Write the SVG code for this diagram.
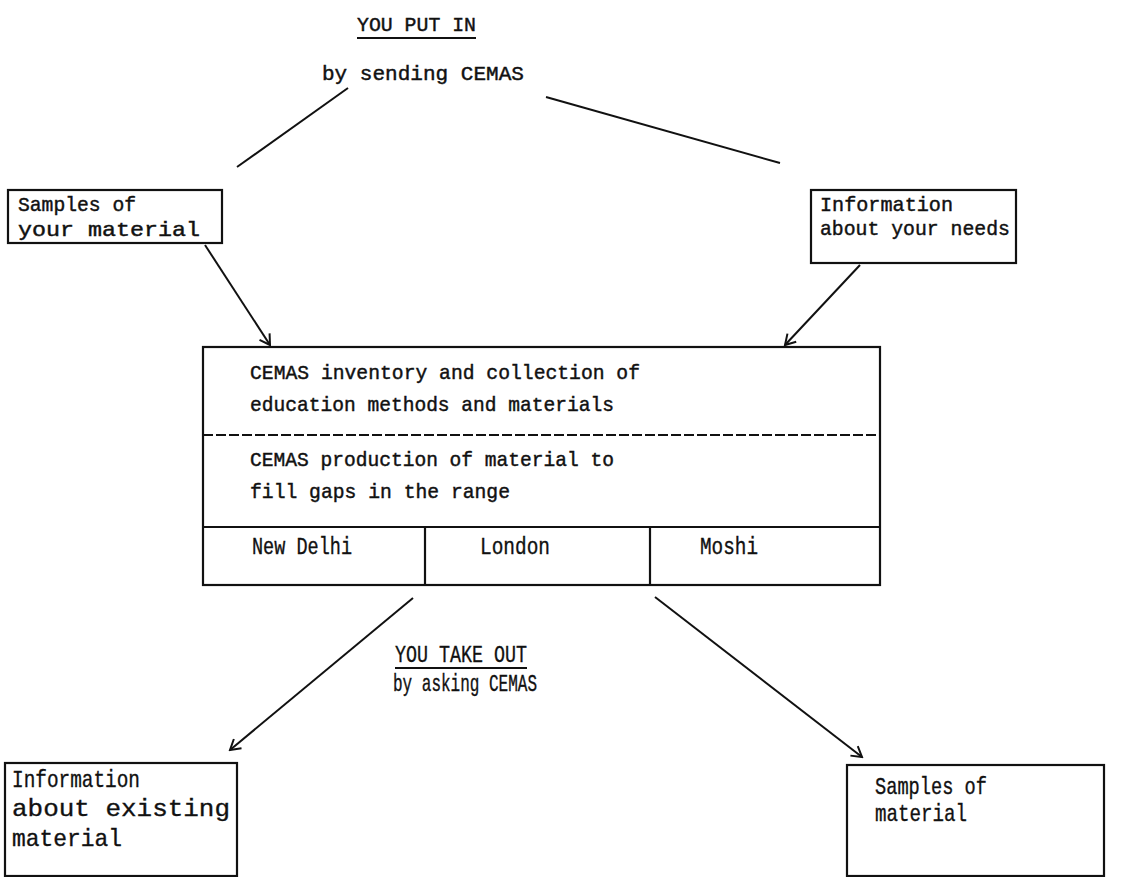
<svg xmlns="http://www.w3.org/2000/svg" width="1127" height="877" viewBox="0 0 1127 877">
<style>
.bg{fill:#fff}
.box{fill:none;stroke:#111;stroke-width:2.2}
.ln{fill:none;stroke:#111;stroke-width:2}
.t{font-family:"Liberation Mono","DejaVu Sans Mono",monospace;font-size:21px;fill:#111;stroke:#111;stroke-width:0.45}
.c{font-family:"Liberation Mono","DejaVu Sans Mono",monospace;font-size:24px;fill:#111;stroke:#111;stroke-width:0.35}
</style>
<defs>
<marker id="ah" markerWidth="14" markerHeight="14" refX="12" refY="7" orient="auto" markerUnits="userSpaceOnUse">
<path d="M2,1 L12,7 L2,13" fill="none" stroke="#111" stroke-width="2"/>
</marker>
</defs>
<rect class="bg" x="0" y="0" width="1127" height="877"/>
<g id="title-in">
<text class="t" x="357" y="31" textLength="119" lengthAdjust="spacingAndGlyphs">YOU PUT IN</text>
<line class="ln" x1="357" y1="38" x2="476" y2="38"/>
<text class="t" x="322" y="80" textLength="202" lengthAdjust="spacingAndGlyphs">by sending  CEMAS</text>
</g>
<g id="title-out">
<text class="c" x="395" y="662" textLength="132" lengthAdjust="spacingAndGlyphs">YOU TAKE OUT</text>
<line class="ln" x1="395" y1="668" x2="527" y2="668"/>
<text class="c" x="393" y="691" textLength="144" lengthAdjust="spacingAndGlyphs">by asking CEMAS</text>
</g>
<g id="node-samples-in">
<rect class="box" x="8" y="190" width="214" height="53"/>
<text class="t" x="18" y="211" textLength="118" lengthAdjust="spacingAndGlyphs">Samples of</text>
<text class="t" x="18" y="236" textLength="182" lengthAdjust="spacingAndGlyphs">your material</text>
</g>
<g id="node-info-in">
<rect class="box" x="811" y="190" width="205" height="73"/>
<text class="t" x="820" y="211" textLength="133" lengthAdjust="spacingAndGlyphs">Information</text>
<text class="t" x="820" y="235" textLength="190" lengthAdjust="spacingAndGlyphs">about your needs</text>
</g>
<g id="node-cemas">
<rect class="box" x="203" y="347" width="677" height="238"/>
<line class="box" x1="203" y1="435" x2="880" y2="435" stroke-dasharray="10 3"/>
<line class="box" x1="203" y1="527" x2="880" y2="527"/>
<line class="box" x1="425" y1="527" x2="425" y2="585"/>
<line class="box" x1="650" y1="527" x2="650" y2="585"/>
<text class="t" x="250" y="379" textLength="390" lengthAdjust="spacingAndGlyphs">CEMAS inventory and collection of</text>
<text class="t" x="250" y="411" textLength="364" lengthAdjust="spacingAndGlyphs">education methods and materials</text>
<text class="t" x="250" y="466" textLength="364" lengthAdjust="spacingAndGlyphs">CEMAS production of material to</text>
<text class="t" x="250" y="498" textLength="260" lengthAdjust="spacingAndGlyphs">fill gaps in the range</text>
<text class="c" x="252" y="554" textLength="100" lengthAdjust="spacingAndGlyphs">New Delhi</text>
<text class="c" x="480" y="554" textLength="70" lengthAdjust="spacingAndGlyphs">London</text>
<text class="c" x="700" y="554" textLength="58" lengthAdjust="spacingAndGlyphs">Moshi</text>
</g>
<g id="node-info-out">
<rect class="box" x="5" y="763" width="232" height="113"/>
<text class="c" x="12" y="787" textLength="128" lengthAdjust="spacingAndGlyphs">Information</text>
<text class="c" x="12" y="816" textLength="218" lengthAdjust="spacingAndGlyphs">about existing</text>
<text class="c" x="12" y="846" textLength="110" lengthAdjust="spacingAndGlyphs">material</text>
</g>
<g id="node-samples-out">
<rect class="box" x="847" y="765" width="257" height="111"/>
<text class="c" x="875" y="794" textLength="112" lengthAdjust="spacingAndGlyphs">Samples of</text>
<text class="c" x="875" y="821" textLength="92" lengthAdjust="spacingAndGlyphs">material</text>
</g>
<g id="connectors">
<line class="ln" x1="348" y1="88" x2="237" y2="167"/>
<line class="ln" x1="546" y1="97" x2="780" y2="163"/>
<line class="ln" x1="205" y1="245" x2="270" y2="345" marker-end="url(#ah)"/>
<line class="ln" x1="860" y1="265" x2="785" y2="345" marker-end="url(#ah)"/>
<line class="ln" x1="413" y1="598" x2="230" y2="750" marker-end="url(#ah)"/>
<line class="ln" x1="655" y1="597" x2="862" y2="757" marker-end="url(#ah)"/>
</g>
</svg>
